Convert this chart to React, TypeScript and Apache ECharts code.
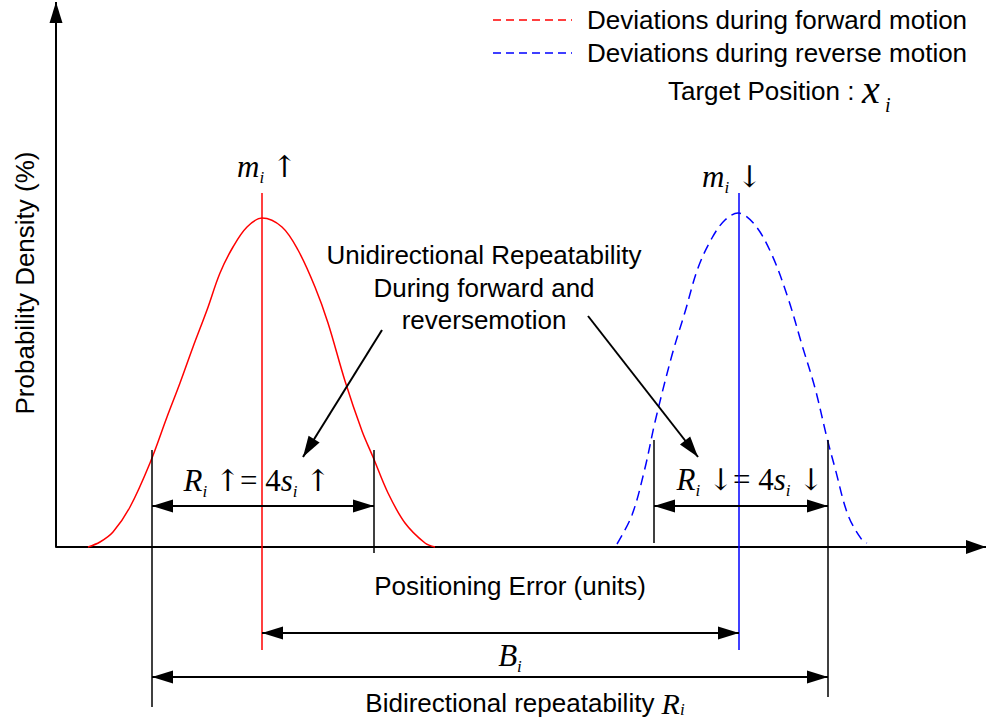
import React, { useEffect, useRef } from "react";
import * as echarts from "echarts";

// Positioning error (units) and probability density (%) of the two motion directions
const forwardError = [3.2, 4.4, 5.7, 7.4, 9.4, 11.1, 12.4, 13.7, 15.1, 16.4, 17.7, 19.1, 20.6, 22.6, 24.2, 25.9, 27.2, 28.9, 30.6, 31.7, 33.2, 34.9, 36.9, 37.9];
const forwardDensity = [0, 0.5, 1.5, 4.0, 8.4, 13.0, 16.4, 20.0, 23.7, 27.4, 30.0, 32.0, 32.9, 32.0, 29.7, 26.0, 22.4, 16.6, 11.6, 9.0, 5.4, 2.4, 0.4, 0];
const reverseError = [56.1, 57.6, 58.9, 59.9, 61.6, 62.9, 64.2, 65.6, 66.9, 68.2, 69.9, 71.6, 73.2, 74.6, 75.9, 77.1, 77.9, 79.2, 80.6, 81.1];
const reverseDensity = [0.3, 3.2, 7.9, 12.5, 19.2, 23.5, 27.9, 30.9, 32.7, 33.4, 32.2, 29.2, 24.9, 20.2, 15.9, 10.9, 7.9, 3.2, 0.7, 0.4];

// Mean positions m_i and the ±2s limits of each direction
const meanForward = 20.6;
const meanReverse = 68.3;
const limitsForward = [9.6, 31.8];
const limitsReverse = [59.8, 77.2];

// Axis extents
const errorRange = [0, 93];
const densityRange = [-17.6, 54.5];

// Heights (density units) of the guide lines and dimension arrows
const meanLineSpan = [35.4, -10.3];
const limitTopForward = 9.7;
const limitTopReverse = 10.7;
const limitBottoms = [-16.0, -0.6, 0.4, -15.0];
const repeatLevel = 4.1;
const biasLevel = -8.6;
const bidirLevel = -13.0;
const pointerForward = [[32.6, 21.7], [24.7, 9.0]];
const pointerReverse = [[53.2, 23.1], [64.2, 9.0]];

const SANS = "'Liberation Sans', Arial, sans-serif";
const SERIF = "'Liberation Serif', 'Times New Roman', serif";
const ARROW_FONT = "'DejaVu Serif', 'Liberation Serif', serif";

const zip = (xs: number[], ys: number[]) => xs.map((x, i) => [x, ys[i]]);

const ink = { fill: "#000", color: "#000" };

function makeRich(main: number, lh: number) {
  return {
    m: { fontFamily: SERIF, fontStyle: "italic", fontSize: main, lineHeight: lh, verticalAlign: "middle", ...ink },
    s: { fontFamily: SERIF, fontStyle: "italic", fontSize: 17, lineHeight: 17, verticalAlign: "bottom", ...ink },
    a: { fontFamily: ARROW_FONT, fontSize: main - 1, lineHeight: lh, verticalAlign: "middle", ...ink },
    n: { fontFamily: SERIF, fontSize: main, lineHeight: lh, verticalAlign: "middle", ...ink },
    t: { fontFamily: SANS, fontSize: 26, lineHeight: lh, verticalAlign: "middle", ...ink },
  };
}

function textEl(x: number, y: number, text: string, align: string, extra: any = {}) {
  const { style, ...rest } = extra;
  return {
    type: "text",
    x,
    y,
    silent: true,
    ...rest,
    style: {
      text,
      fill: "#000",
      font: `26px ${SANS}`,
      align,
      verticalAlign: "middle",
      textAlign: align,
      textVerticalAlign: "middle",
      ...(style || {}),
    },
  };
}

function mathEl(x: number, y: number, text: string, align: string, rich: any) {
  return textEl(x, y, text, align, { style: { rich } });
}

const blackLine = { color: "#000", width: 2, type: "solid" };
const HEAD = [13, 21];
const HEAD_OFFSET = [0, 10.5];

function end(coord: number[], withHead: boolean) {
  return withHead
    ? { coord, symbol: "triangle", symbolSize: HEAD, symbolOffset: HEAD_OFFSET }
    : { coord, symbol: "none" };
}

function vline(x: number, top: number, bottom: number) {
  return [{ coord: [x, top] }, { coord: [x, bottom] }];
}

function hArrow(x1: number, x2: number, y: number) {
  return [end([x1, y], true), end([x2, y], true)];
}

function pointer(from: number[], to: number[]) {
  return [end(from, false), end(to, true)];
}

export default function App() {
  const ref = useRef<HTMLDivElement>(null);

  useEffect(() => {
    if (!ref.current) return;
    const chart = echarts.init(ref.current, null, { renderer: "svg" });

    const rich = makeRich(31, 40);
    const richBottom = makeRich(30, 30);

    const option: any = {
      animation: false,
      backgroundColor: "#fff",
      grid: { left: 56, right: 0, top: 2, bottom: 0, containLabel: false, outerBoundsMode: "none" },
      xAxis: {
        type: "value",
        min: errorRange[0],
        max: errorRange[1],
        axisLine: {
          onZero: true,
          lineStyle: { color: "#000", width: 2 },
          symbol: ["none", "triangle"],
          symbolSize: [14, 20],
          symbolOffset: [0, -10],
        },
        axisTick: { show: false },
        axisLabel: { show: false },
        splitLine: { show: false },
      },
      yAxis: {
        type: "value",
        min: densityRange[0],
        max: densityRange[1],
        axisLine: { show: false },
        axisTick: { show: false },
        axisLabel: { show: false },
        splitLine: { show: false },
      },
      series: [
        {
          name: "Deviations during forward motion",
          type: "line",
          data: zip(forwardError, forwardDensity),
          smooth: 0.35,
          showSymbol: false,
          clip: false,
          silent: true,
          lineStyle: { color: "#ff0000", width: 1.5 },
          itemStyle: { color: "#ff0000" },
          markLine: {
            silent: true,
            symbol: "none",
            label: { show: false },
            lineStyle: { color: "#ff0000", width: 1.5, type: "solid" },
            data: [vline(meanForward, meanLineSpan[0], meanLineSpan[1])],
          },
        },
        {
          name: "Deviations during reverse motion",
          type: "line",
          data: zip(reverseError, reverseDensity),
          smooth: 0.35,
          showSymbol: false,
          clip: false,
          silent: true,
          lineStyle: { color: "#0000ff", width: 1.5, type: [10, 6] },
          itemStyle: { color: "#0000ff" },
          markLine: {
            silent: true,
            symbol: "none",
            label: { show: false },
            lineStyle: { color: "#0000ff", width: 1.5, type: "solid" },
            data: [vline(meanReverse, meanLineSpan[0], meanLineSpan[1])],
          },
        },
        {
          // Limit lines of the repeatability bands
          name: "limits",
          type: "line",
          data: [],
          clip: false,
          silent: true,
          markLine: {
            silent: true,
            symbol: "none",
            label: { show: false },
            lineStyle: { ...blackLine, width: 1.5 },
            data: [
              vline(limitsForward[0], limitTopForward, limitBottoms[0]),
              vline(limitsForward[1], limitTopForward, limitBottoms[1]),
              vline(limitsReverse[0], limitTopReverse, limitBottoms[2]),
              vline(limitsReverse[1], limitTopReverse, limitBottoms[3]),
            ],
          },
        },
        {
          // Dimension arrows (R_i up, R_i down, B_i, bidirectional R_i), the density axis and callout pointers
          name: "dimensions",
          type: "line",
          data: [],
          clip: false,
          silent: true,
          markLine: {
            silent: true,
            symbol: ["triangle", "triangle"],
            symbolSize: HEAD,
            symbolOffset: [HEAD_OFFSET, HEAD_OFFSET],
            label: { show: false },
            lineStyle: blackLine,
            data: [
              hArrow(limitsForward[0], limitsForward[1], repeatLevel),
              hArrow(limitsReverse[0], limitsReverse[1], repeatLevel),
              hArrow(meanForward, meanReverse, biasLevel),
              hArrow(limitsForward[0], limitsReverse[1], bidirLevel),
              pointer([errorRange[0], 0], [errorRange[0], densityRange[1]]),
              pointer(pointerForward[0], pointerForward[1]),
              pointer(pointerReverse[0], pointerReverse[1]),
            ],
          },
        },
      ],
      graphic: [
        // legend
        { type: "line", silent: true, shape: { x1: 493, y1: 20, x2: 572, y2: 20 }, style: { stroke: "#ff0000", lineWidth: 1.5, lineDash: [8, 5] } },
        { type: "line", silent: true, shape: { x1: 493, y1: 53, x2: 572, y2: 53 }, style: { stroke: "#0000ff", lineWidth: 1.5, lineDash: [8, 5] } },
        textEl(587, 20, "Deviations during forward motion", "left"),
        textEl(587, 53, "Deviations during reverse motion", "left"),
        textEl(668, 91, "Target Position :", "left"),
        textEl(862, 89, "x", "left", { style: { font: `italic 40px ${SERIF}` } }),
        textEl(885, 105, "i", "left", { style: { font: `italic 20px ${SERIF}` } }),
        // axis titles
        textEl(25, 283, "Probability Density (%)", "center", { rotation: Math.PI / 2 }),
        textEl(510, 586, "Positioning Error (units)", "center"),
        // callout
        textEl(484, 255, "Unidirectional Repeatability", "center"),
        textEl(484, 288, "During forward and", "center"),
        textEl(484, 320, "reversemotion", "center"),
        // math labels
        mathEl(267, 166, "{m|m}{s|i}{n| }{a|↑}", "center", rich),
        mathEl(732, 176, "{m|m}{s|i}{n| }{a|↓}", "center", rich),
        mathEl(257, 480, "{m|R}{s|i}{n| }{a|↑}{n|= 4}{m|s}{s|i}{n| }{a|↑}", "center", rich),
        mathEl(750, 479, "{m|R}{s|i}{n| }{a|↓}{n|= 4}{m|s}{s|i}{n| }{a|↓}", "center", rich),
        mathEl(510, 655, "{m|B}{s|i}", "center", rich),
        mathEl(525, 703, "{t|Bidirectional repeatability }{m|R}{s|i}", "center", richBottom),
      ],
    };

    chart.setOption(option);
    return () => chart.dispose();
  }, []);

  return (
    <div
      ref={ref}
      style={{ position: "fixed", left: 0, top: 0, width: 986, height: 723, background: "#fff" }}
    />
  );
}
